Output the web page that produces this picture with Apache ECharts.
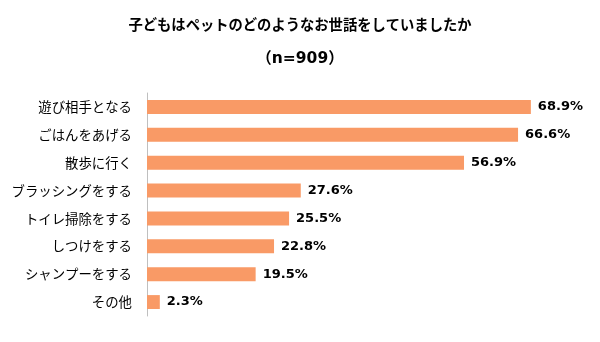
<!DOCTYPE html>
<html><head><meta charset="utf-8">
<script src="https://cdn.jsdelivr.net/npm/echarts@6/dist/echarts.min.js"></script>
<style>html,body{margin:0;padding:0;background:#fff}#c{width:600px;height:342px}</style>
</head><body><div id="c"></div>
<script>
const categories = ['遊び相手となる','ごはんをあげる','散歩に行く','ブラッシングをする','トイレ掃除をする','しつけをする','シャンプーをする','その他'];
const values = [68.9, 66.6, 56.9, 27.6, 25.5, 22.8, 19.5, 2.3];
const titleText = '子どもはペットのどのようなお世話をしていましたか';
const subText = '（n=909）';
const font = '"Noto Sans CJK JP", sans-serif';
const mixFont = '"DejaVu Sans", "Noto Sans CJK JP", sans-serif';
const chart = echarts.init(document.getElementById('c'));
chart.setOption({
  animation:false,
  title:[
    {text:titleText,left:'center',top:12,textStyle:{fontFamily:font,fontSize:14.3,fontWeight:'bold',color:'#000'}},
    {text:subText,left:'center',top:46,textStyle:{fontFamily:mixFont,fontSize:15.5,fontWeight:'bold',color:'#000'}}
  ],
  grid:{left:147,top:93,width:390,height:223,containLabel:false},
  xAxis:{type:'value',min:0,max:70,show:false},
  yAxis:{type:'category',data:categories,inverse:true,
    axisLine:{show:true,lineStyle:{color:'#BFBFBF',width:1}},
    axisTick:{show:false},
    axisLabel:{margin:15,fontFamily:font,fontSize:13.4,color:'#000'}},
  series:[{type:'bar',data:values,barWidth:'50%',
    itemStyle:{color:'#F99A66'},
    label:{show:true,position:'right',distance:7,formatter:p=>p.value.toFixed(1)+'%',
      fontFamily:'"DejaVu Sans", sans-serif',fontSize:13,fontWeight:'bold',color:'#000'}}]
});
</script></body></html>
